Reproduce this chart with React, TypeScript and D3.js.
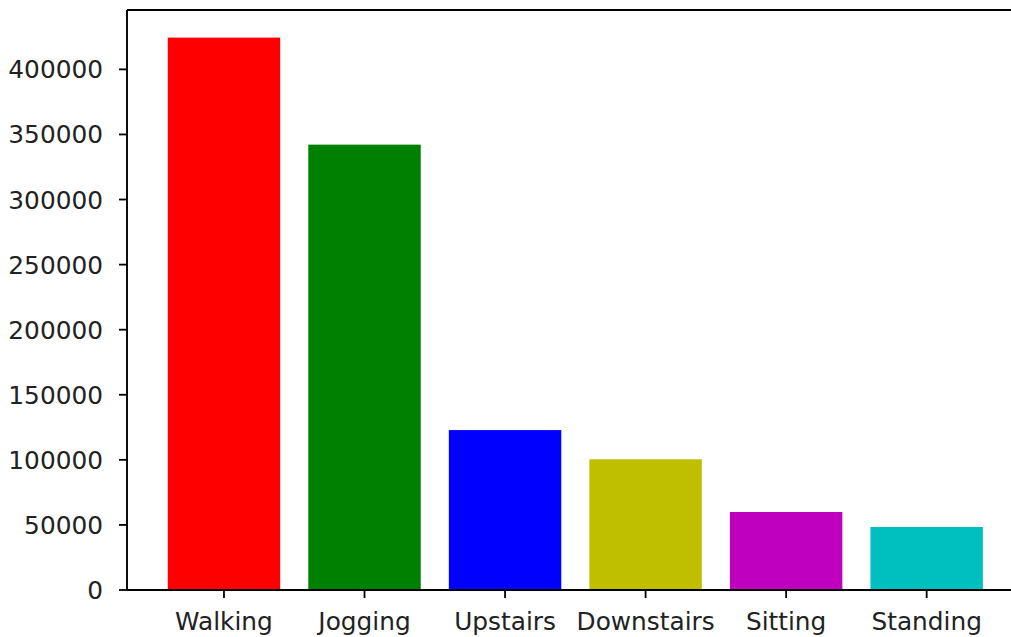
import React from "react";
import * as d3 from "d3";

const categories = ["Walking", "Jogging", "Upstairs", "Downstairs", "Sitting", "Standing"];
const counts = [424397, 342176, 122869, 100427, 59939, 48395];
const colors = ["#ff0000", "#008000", "#0000ff", "#bfbf00", "#bf00bf", "#00bfbf"];
const yTicks = [0, 50000, 100000, 150000, 200000, 250000, 300000, 350000, 400000];

const W = 1011;
const H = 637;
const left = 127;
const top = 10;
const bottom = 590;
const unit = 140.54;

export default function App() {
  const n = categories.length;
  const pad = (n - 1 + 0.8) * 0.05;
  const xMin = -0.4 - pad;
  const xMax = n - 1 + 0.4 + pad;
  const x = d3.scaleLinear().domain([xMin, xMax]).range([left, left + (xMax - xMin) * unit]);
  const yMax = d3.max(counts)! * 1.05;
  const y = d3.scaleLinear().domain([0, yMax]).range([bottom, top]);
  const right = x(xMax);
  const font = "'DejaVu Sans', sans-serif";
  const fs = 24.8;
  const txt = "#222";
  return (
    <svg
      width={W}
      height={H}
      style={{ position: "fixed", left: 0, top: 0, background: "#fff" }}
      fontFamily={font}
    >
      <rect x={0} y={0} width={W} height={H} fill="#fff" />
      {counts.map((v, i) => (
        <rect
          key={categories[i]}
          x={x(i - 0.4)}
          y={y(v)}
          width={x(i + 0.4) - x(i - 0.4)}
          height={y(0) - y(v)}
          fill={colors[i]}
        />
      ))}
      {/* spines */}
      <line x1={left} x2={left} y1={top} y2={bottom} stroke="#000" strokeWidth={1.9} />
      <line x1={left} x2={right} y1={bottom} y2={bottom} stroke="#000" strokeWidth={1.9} />
      <line x1={left} x2={right} y1={top} y2={top} stroke="#000" strokeWidth={1.9} />
      <line x1={right} x2={right} y1={top} y2={bottom} stroke="#000" strokeWidth={1.9} />
      {yTicks.map((t) => (
        <g key={t}>
          <line x1={left - 8} x2={left} y1={y(t)} y2={y(t)} stroke="#000" strokeWidth={1.8} />
          <text x={103} y={y(t) + 9} textAnchor="end" fontSize={fs} fill={txt}>
            {String(t)}
          </text>
        </g>
      ))}
      {categories.map((c, i) => (
        <g key={c}>
          <line x1={x(i)} x2={x(i)} y1={bottom} y2={bottom + 8} stroke="#000" strokeWidth={1.8} />
          <text x={x(i)} y={629.5} textAnchor="middle" fontSize={fs} fill={txt}>
            {c}
          </text>
        </g>
      ))}
    </svg>
  );
}
